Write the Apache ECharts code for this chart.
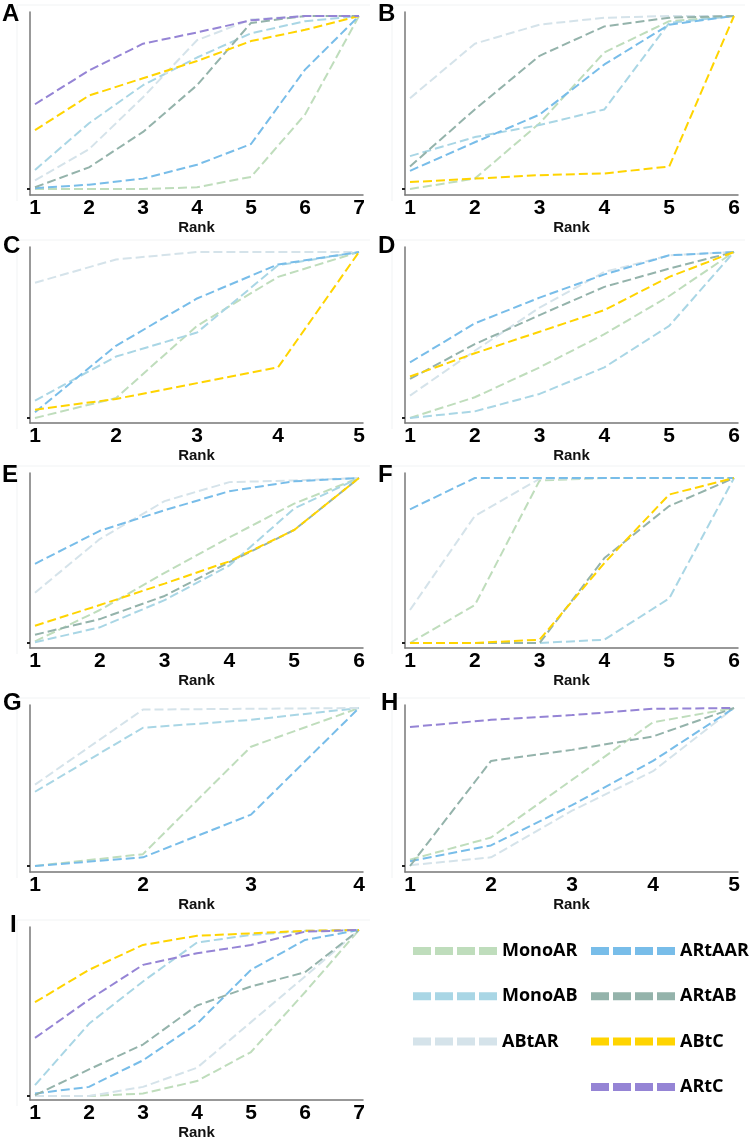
<!DOCTYPE html>
<html>
<head>
<meta charset="utf-8">
<script src="https://cdn.jsdelivr.net/npm/echarts@6/dist/echarts.min.js"></script>
<style>
html,body{margin:0;padding:0;background:#fff;}
#c{width:751px;height:1141px;}
</style>
</head>
<body>
<div id="c"></div>
<script>
// ---------- data ----------
const seriesNames = ['MonoAR','MonoAB','ABtAR','ARtAAR','ARtAB','ABtC','ARtC'];
const panelLetters = ['A','B','C','D','E','F','G','H','I'];
const ranks7 = [1,2,3,4,5,6,7];
const ranks6 = [1,2,3,4,5,6];
const ranks5 = [1,2,3,4,5];
const ranks4 = [1,2,3,4];

// Panel A
const A_MonoAR = [0, 0, 0, 0.01, 0.07, 0.43, 1];
const A_MonoAB = [0.11, 0.38, 0.60, 0.76, 0.90, 0.97, 1];
const A_ABtAR  = [0.05, 0.23, 0.53, 0.86, 0.98, 1.0, 1];
const A_ARtAAR = [0.005, 0.025, 0.06, 0.14, 0.26, 0.69, 1];
const A_ARtAB  = [0.01, 0.125, 0.33, 0.60, 0.96, 1.0, 1];
const A_ABtC   = [0.34, 0.54, 0.64, 0.74, 0.855, 0.92, 1];
const A_ARtC   = [0.49, 0.685, 0.84, 0.905, 0.975, 1.0, 1];
// Panel B
const B_MonoAR = [0, 0.06, 0.38, 0.79, 0.97, 1];
const B_MonoAB = [0.19, 0.30, 0.37, 0.46, 0.96, 1];
const B_ABtAR  = [0.525, 0.84, 0.95, 0.99, 1, 1];
const B_ARtAAR = [0.105, 0.27, 0.43, 0.72, 0.95, 1];
const B_ARtAB  = [0.13, 0.46, 0.77, 0.94, 0.99, 1];
const B_ABtC   = [0.04, 0.06, 0.08, 0.09, 0.13, 1];
// Panel C
const C_MonoAR = [0, 0.12, 0.555, 0.85, 1];
const C_MonoAB = [0.105, 0.37, 0.515, 0.92, 1];
const C_ABtAR  = [0.815, 0.955, 1, 1, 1];
const C_ARtAAR = [0.035, 0.435, 0.72, 0.925, 1];
const C_ABtC   = [0.05, 0.115, 0.21, 0.305, 1];
// Panel D
const D_MonoAR = [0, 0.125, 0.305, 0.505, 0.735, 1];
const D_MonoAB = [0, 0.04, 0.145, 0.305, 0.555, 1];
const D_ABtAR  = [0.135, 0.405, 0.665, 0.88, 0.98, 1];
const D_ARtAAR = [0.335, 0.57, 0.725, 0.865, 0.98, 1];
const D_ARtAB  = [0.235, 0.445, 0.62, 0.79, 0.90, 1];
const D_ABtC   = [0.25, 0.39, 0.52, 0.65, 0.85, 1];
// Panel E
const E_MonoAR = [0.01, 0.2, 0.425, 0.64, 0.845, 1];
const E_MonoAB = [0.005, 0.095, 0.26, 0.47, 0.815, 1];
const E_ABtAR  = [0.305, 0.63, 0.86, 0.975, 0.985, 1];
const E_ARtAAR = [0.48, 0.68, 0.805, 0.92, 0.98, 1];
const E_ARtAB  = [0.05, 0.145, 0.285, 0.49, 0.685, 1];
const E_ABtC   = [0.105, 0.23, 0.36, 0.495, 0.685, 1];
// Panel F
const F_MonoAR = [0, 0.23, 0.985, 1, 1, 1];
const F_MonoAB = [0, 0, 0, 0.02, 0.27, 1];
const F_ABtAR  = [0.2, 0.77, 0.995, 1, 1, 1];
const F_ARtAAR = [0.81, 1, 1, 1, 1, 1];
const F_ARtAB  = [0, 0, 0, 0.515, 0.83, 1];
const F_ABtC   = [0, 0, 0.02, 0.485, 0.90, 1];
// Panel G
const G_MonoAR = [0, 0.075, 0.755, 1];
const G_MonoAB = [0.47, 0.875, 0.925, 1];
const G_ABtAR  = [0.515, 0.99, 0.995, 1];
const G_ARtAAR = [0, 0.055, 0.325, 1];
// Panel H
const H_MonoAR = [0.04, 0.18, 0.545, 0.91, 1];
const H_ABtAR  = [0.005, 0.055, 0.35, 0.6, 1];
const H_ARtAAR = [0.03, 0.13, 0.385, 0.665, 1];
const H_ARtAB  = [0, 0.665, 0.735, 0.82, 1];
const H_ARtC   = [0.88, 0.925, 0.955, 0.995, 1];
// Panel I
const I_MonoAR = [0, 0, 0.015, 0.09, 0.265, 0.625, 1];
const I_MonoAB = [0.065, 0.435, 0.69, 0.925, 0.97, 0.995, 1];
const I_ABtAR  = [0, 0, 0.055, 0.17, 0.445, 0.72, 1];
const I_ARtAAR = [0.015, 0.055, 0.215, 0.435, 0.76, 0.94, 1];
const I_ARtAB  = [0.005, 0.16, 0.31, 0.545, 0.66, 0.745, 1];
const I_ABtC   = [0.565, 0.76, 0.91, 0.965, 0.98, 0.995, 1];
const I_ARtC   = [0.35, 0.58, 0.79, 0.86, 0.91, 0.99, 1];

// ---------- assembly ----------
const colors = {
  MonoAR: '#bfddbc', MonoAB: '#a9d6e5', ABtAR: '#d5e3ea', ARtAAR: '#78bde9',
  ARtAB: '#94b3ab', ABtC: '#ffd400', ARtC: '#9584d5'
};
const panels = [
  {ranks: ranks7, s: {MonoAR:A_MonoAR, MonoAB:A_MonoAB, ABtAR:A_ABtAR, ARtAAR:A_ARtAAR, ARtAB:A_ARtAB, ABtC:A_ABtC, ARtC:A_ARtC}},
  {ranks: ranks6, s: {MonoAR:B_MonoAR, MonoAB:B_MonoAB, ABtAR:B_ABtAR, ARtAAR:B_ARtAAR, ARtAB:B_ARtAB, ABtC:B_ABtC}},
  {ranks: ranks5, s: {MonoAR:C_MonoAR, MonoAB:C_MonoAB, ABtAR:C_ABtAR, ARtAAR:C_ARtAAR, ABtC:C_ABtC}},
  {ranks: ranks6, s: {MonoAR:D_MonoAR, MonoAB:D_MonoAB, ABtAR:D_ABtAR, ARtAAR:D_ARtAAR, ARtAB:D_ARtAB, ABtC:D_ABtC}},
  {ranks: ranks6, s: {MonoAR:E_MonoAR, MonoAB:E_MonoAB, ABtAR:E_ABtAR, ARtAAR:E_ARtAAR, ARtAB:E_ARtAB, ABtC:E_ABtC}},
  {ranks: ranks6, s: {MonoAR:F_MonoAR, MonoAB:F_MonoAB, ABtAR:F_ABtAR, ARtAAR:F_ARtAAR, ARtAB:F_ARtAB, ABtC:F_ABtC}},
  {ranks: ranks4, s: {MonoAR:G_MonoAR, MonoAB:G_MonoAB, ABtAR:G_ABtAR, ARtAAR:G_ARtAAR}},
  {ranks: ranks5, s: {MonoAR:H_MonoAR, ABtAR:H_ABtAR, ARtAAR:H_ARtAAR, ARtAB:H_ARtAB, ARtC:H_ARtC}},
  {ranks: ranks7, s: {MonoAR:I_MonoAR, MonoAB:I_MonoAB, ABtAR:I_ABtAR, ARtAAR:I_ARtAAR, ARtAB:I_ARtAB, ABtC:I_ABtC, ARtC:I_ARtC}}
];

// layout (pixels): grid top, axis bottom, y of value 0, y of value 1
const rows = [
  {top: 12,  bottom: 195,  y0: 189,  y1: 16},
  {top: 247, bottom: 423,  y0: 418,  y1: 252},
  {top: 473, bottom: 648,  y0: 643,  y1: 478},
  {top: 705, bottom: 872,  y0: 866,  y1: 708},
  {top: 927, bottom: 1100, y0: 1096, y1: 930}
];
const cols = [30, 405];
const gridW = 333;
const letterPos = [
  [2, 2], [378, 2], [3, 234], [378, 234], [2, 463], [378, 463], [3, 691], [381, 691], [10, 913]
];

const grid = [], xAxis = [], yAxis = [], series = [], title = [], graphic = [];
panels.forEach((p, i) => {
  const r = rows[Math.floor(i / 2)];
  const left = cols[i % 2];
  const h = r.bottom - r.top;
  grid.push({left: left, top: r.top, width: gridW, height: h});
  const n = p.ranks.length;
  const unit = (gridW - 9) / (n - 1);
  xAxis.push({
    type: 'value', gridIndex: i, min: 1 - 5 / unit, max: n + 4 / unit,
    name: 'Rank', nameLocation: 'middle', nameGap: 20,
    nameTextStyle: {fontFamily: 'Liberation Sans, Arial', fontWeight: 'bold', fontSize: 15, color: '#111'},
    axisLine: {onZero: false, lineStyle: {color: '#777', width: 1.5}},
    axisTick: {show: false},
    splitLine: {show: false},
    axisLabel: {customValues: p.ranks, margin: 3, fontFamily: 'Liberation Sans, Arial', fontWeight: 'bold', fontSize: 21, color: '#000'}
  });
  const s = (r.y0 - r.y1);
  yAxis.push({
    type: 'value', gridIndex: i,
    min: -(r.bottom - r.y0) / s, max: 1 + (r.y1 - r.top) / s,
    axisLine: {show: true, onZero: false, lineStyle: {color: '#777', width: 1.5}},
    axisTick: {show: true, customValues: [0], length: 3, lineStyle: {color: '#222', width: 2}},
    axisLabel: {show: false},
    splitLine: {show: false}
  });
  title.push({
    text: panelLetters[i], left: letterPos[i][0], top: letterPos[i][1], padding: 0,
    textStyle: {fontFamily: 'Liberation Sans, Arial', fontWeight: 'bold', fontSize: 24, color: '#000'}
  });
  // faint panel frame (top and left edges)
  graphic.push({type: 'polyline', silent: true, z: -1,
    shape: {points: [[left - 13, r.bottom + 6], [left - 13, r.top - 7], [left + 340, r.top - 7]]},
    style: {stroke: '#f1f3f4', lineWidth: 1, fill: null}});
  seriesNames.forEach(name => {
    const vals = p.s[name];
    if (!vals) return;
    series.push({
      type: 'line', name: name, xAxisIndex: i, yAxisIndex: i,
      data: p.ranks.map((rk, k) => [rk, vals[k]]),
      symbol: 'none', showSymbol: false, silent: true,
      color: colors[name],
      lineStyle: {color: colors[name], width: 2, type: [9, 4]}
    });
  });
});

const dashIcon = 'path://M0,0h18v8h-18z M22,0h18v8h-18z M44,0h18v8h-18z M66,0h18v8h-18z';
const legendText = {fontFamily: 'Open Sans', fontWeight: 700, fontSize: 18, lineHeight: 20, color: '#000'};
const legend = [
  {data: ['MonoAR','MonoAB','ABtAR'], left: 413, top: 941, orient: 'vertical', itemGap: 25.3,
   itemWidth: 84, itemHeight: 8, icon: dashIcon, selectedMode: false, padding: 0,
   itemStyle: {borderWidth: 0}, textStyle: legendText},
  {data: ['ARtAAR','ARtAB','ABtC','ARtC'], left: 591, top: 941, orient: 'vertical', itemGap: 25.3,
   itemWidth: 84, itemHeight: 8, icon: dashIcon, selectedMode: false, padding: 0,
   itemStyle: {borderWidth: 0}, textStyle: legendText}
];

const chart = echarts.init(document.getElementById('c'), null, {renderer: 'canvas'});
chart.setOption({
  backgroundColor: '#fff',
  animation: false,
  title: title,
  grid: grid,
  xAxis: xAxis,
  yAxis: yAxis,
  legend: legend,
  graphic: graphic,
  series: series
});
</script>
</body>
</html>
